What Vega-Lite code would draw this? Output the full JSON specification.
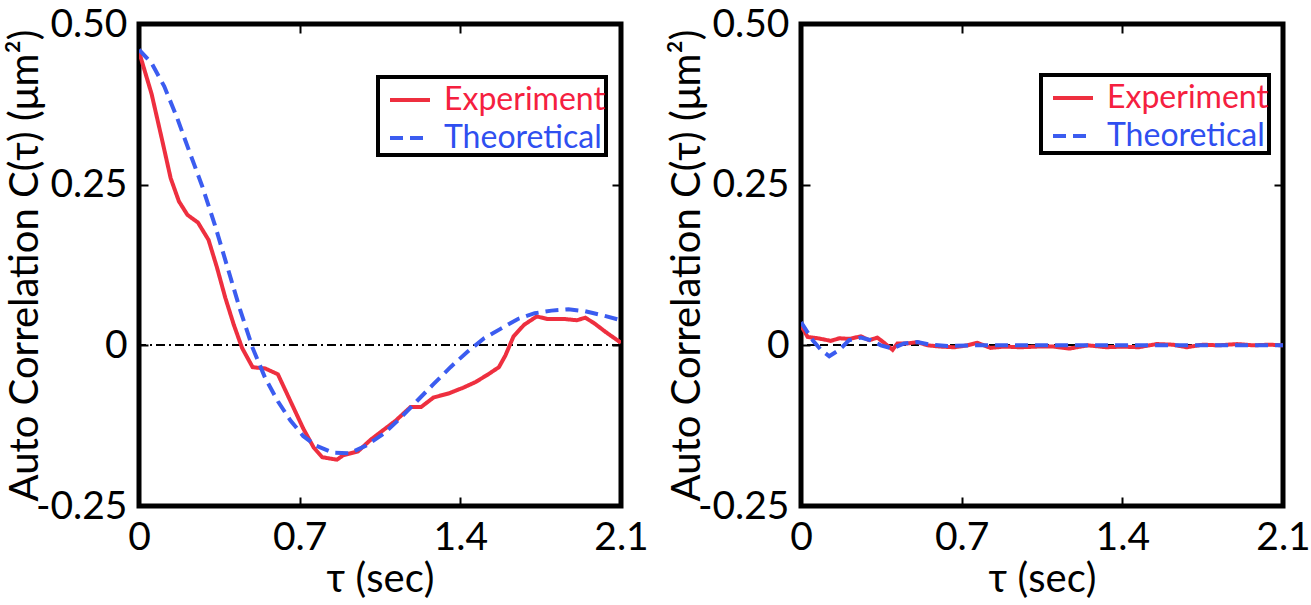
{
  "$schema": "https://vega.github.io/schema/vega-lite/v6.json",
  "background": "white",
  "padding": {"left": 2, "top": 2, "right": 0, "bottom": 0},
  "spacing": 13,
  "config": {
    "font": "Lato",
    "view": {"stroke": "black", "strokeWidth": 5},
    "axis": {
      "labelFont": "Lato",
      "titleFont": "Lato",
      "labelFontSize": 39,
      "titleFontSize": 40,
      "titleFontWeight": "normal",
      "labelColor": "black",
      "titleColor": "black",
      "domain": false,
      "grid": false,
      "tickColor": "black",
      "tickWidth": 2,
      "tickSize": -9,
      "labelPadding": 21,
      "titlePadding": -10
    },
    "legend": {
      "labelFont": "Lato",
      "labelFontSize": 32,
      "labelLimit": 400,
      "symbolType": "stroke",
      "symbolSize": 1600,
      "symbolStrokeWidth": 4,
      "symbolOffset": 9,
      "strokeColor": "black",
      "fillColor": "white",
      "strokeWidth": 4,
      "padding": 1,
      "labelOffset": 12,
      "rowPadding": -5
    }
  },
  "datasets": {
    "left": [
      {"tau": 0, "C": 0.457, "series": "Experiment"},
      {"tau": 0.055, "C": 0.391, "series": "Experiment"},
      {"tau": 0.101, "C": 0.319, "series": "Experiment"},
      {"tau": 0.138, "C": 0.26, "series": "Experiment"},
      {"tau": 0.174, "C": 0.224, "series": "Experiment"},
      {"tau": 0.211, "C": 0.203, "series": "Experiment"},
      {"tau": 0.257, "C": 0.191, "series": "Experiment"},
      {"tau": 0.303, "C": 0.164, "series": "Experiment"},
      {"tau": 0.339, "C": 0.122, "series": "Experiment"},
      {"tau": 0.376, "C": 0.074, "series": "Experiment"},
      {"tau": 0.413, "C": 0.032, "series": "Experiment"},
      {"tau": 0.449, "C": -0.004, "series": "Experiment"},
      {"tau": 0.495, "C": -0.034, "series": "Experiment"},
      {"tau": 0.55, "C": -0.036, "series": "Experiment"},
      {"tau": 0.605, "C": -0.045, "series": "Experiment"},
      {"tau": 0.66, "C": -0.087, "series": "Experiment"},
      {"tau": 0.715, "C": -0.129, "series": "Experiment"},
      {"tau": 0.761, "C": -0.159, "series": "Experiment"},
      {"tau": 0.798, "C": -0.174, "series": "Experiment"},
      {"tau": 0.862, "C": -0.178, "series": "Experiment"},
      {"tau": 0.89, "C": -0.171, "series": "Experiment"},
      {"tau": 0.954, "C": -0.165, "series": "Experiment"},
      {"tau": 1.009, "C": -0.147, "series": "Experiment"},
      {"tau": 1.064, "C": -0.132, "series": "Experiment"},
      {"tau": 1.119, "C": -0.117, "series": "Experiment"},
      {"tau": 1.183, "C": -0.096, "series": "Experiment"},
      {"tau": 1.229, "C": -0.096, "series": "Experiment"},
      {"tau": 1.284, "C": -0.081, "series": "Experiment"},
      {"tau": 1.348, "C": -0.075, "series": "Experiment"},
      {"tau": 1.412, "C": -0.066, "series": "Experiment"},
      {"tau": 1.467, "C": -0.057, "series": "Experiment"},
      {"tau": 1.522, "C": -0.045, "series": "Experiment"},
      {"tau": 1.568, "C": -0.034, "series": "Experiment"},
      {"tau": 1.596, "C": -0.016, "series": "Experiment"},
      {"tau": 1.632, "C": 0.014, "series": "Experiment"},
      {"tau": 1.678, "C": 0.032, "series": "Experiment"},
      {"tau": 1.733, "C": 0.045, "series": "Experiment"},
      {"tau": 1.779, "C": 0.041, "series": "Experiment"},
      {"tau": 1.852, "C": 0.041, "series": "Experiment"},
      {"tau": 1.908, "C": 0.039, "series": "Experiment"},
      {"tau": 1.944, "C": 0.043, "series": "Experiment"},
      {"tau": 1.981, "C": 0.035, "series": "Experiment"},
      {"tau": 2.036, "C": 0.02, "series": "Experiment"},
      {"tau": 2.1, "C": 0.004, "series": "Experiment"},
      {"tau": 0, "C": 0.46, "series": "Theoretical"},
      {"tau": 0.055, "C": 0.439, "series": "Theoretical"},
      {"tau": 0.11, "C": 0.403, "series": "Theoretical"},
      {"tau": 0.165, "C": 0.355, "series": "Theoretical"},
      {"tau": 0.22, "C": 0.301, "series": "Theoretical"},
      {"tau": 0.275, "C": 0.248, "series": "Theoretical"},
      {"tau": 0.33, "C": 0.188, "series": "Theoretical"},
      {"tau": 0.385, "C": 0.122, "series": "Theoretical"},
      {"tau": 0.44, "C": 0.056, "series": "Theoretical"},
      {"tau": 0.495, "C": -0.004, "series": "Theoretical"},
      {"tau": 0.55, "C": -0.051, "series": "Theoretical"},
      {"tau": 0.605, "C": -0.087, "series": "Theoretical"},
      {"tau": 0.66, "C": -0.117, "series": "Theoretical"},
      {"tau": 0.715, "C": -0.141, "series": "Theoretical"},
      {"tau": 0.77, "C": -0.156, "series": "Theoretical"},
      {"tau": 0.844, "C": -0.167, "series": "Theoretical"},
      {"tau": 0.917, "C": -0.168, "series": "Theoretical"},
      {"tau": 0.99, "C": -0.156, "series": "Theoretical"},
      {"tau": 1.064, "C": -0.138, "series": "Theoretical"},
      {"tau": 1.137, "C": -0.114, "series": "Theoretical"},
      {"tau": 1.21, "C": -0.087, "series": "Theoretical"},
      {"tau": 1.284, "C": -0.06, "series": "Theoretical"},
      {"tau": 1.357, "C": -0.034, "series": "Theoretical"},
      {"tau": 1.431, "C": -0.01, "series": "Theoretical"},
      {"tau": 1.504, "C": 0.011, "series": "Theoretical"},
      {"tau": 1.577, "C": 0.026, "series": "Theoretical"},
      {"tau": 1.651, "C": 0.041, "series": "Theoretical"},
      {"tau": 1.724, "C": 0.05, "series": "Theoretical"},
      {"tau": 1.797, "C": 0.054, "series": "Theoretical"},
      {"tau": 1.871, "C": 0.056, "series": "Theoretical"},
      {"tau": 1.944, "C": 0.053, "series": "Theoretical"},
      {"tau": 2.017, "C": 0.047, "series": "Theoretical"},
      {"tau": 2.1, "C": 0.039, "series": "Theoretical"}
    ],
    "right": [
      {"tau": 0, "C": 0.031, "series": "Experiment"},
      {"tau": 0.029, "C": 0.013, "series": "Experiment"},
      {"tau": 0.073, "C": 0.011, "series": "Experiment"},
      {"tau": 0.13, "C": 0.007, "series": "Experiment"},
      {"tau": 0.167, "C": 0.011, "series": "Experiment"},
      {"tau": 0.21, "C": 0.01, "series": "Experiment"},
      {"tau": 0.261, "C": 0.014, "series": "Experiment"},
      {"tau": 0.297, "C": 0.008, "series": "Experiment"},
      {"tau": 0.333, "C": 0.012, "series": "Experiment"},
      {"tau": 0.362, "C": 0.004, "series": "Experiment"},
      {"tau": 0.399, "C": -0.007, "series": "Experiment"},
      {"tau": 0.42, "C": 0.003, "series": "Experiment"},
      {"tau": 0.464, "C": 0.003, "series": "Experiment"},
      {"tau": 0.507, "C": 0.005, "series": "Experiment"},
      {"tau": 0.551, "C": 0.0, "series": "Experiment"},
      {"tau": 0.609, "C": -0.002, "series": "Experiment"},
      {"tau": 0.667, "C": -0.003, "series": "Experiment"},
      {"tau": 0.725, "C": 0.0, "series": "Experiment"},
      {"tau": 0.768, "C": 0.004, "series": "Experiment"},
      {"tau": 0.826, "C": -0.004, "series": "Experiment"},
      {"tau": 0.883, "C": -0.002, "series": "Experiment"},
      {"tau": 0.957, "C": -0.003, "series": "Experiment"},
      {"tau": 1.029, "C": -0.002, "series": "Experiment"},
      {"tau": 1.1, "C": -0.002, "series": "Experiment"},
      {"tau": 1.17, "C": -0.005, "series": "Experiment"},
      {"tau": 1.25, "C": 0.0, "series": "Experiment"},
      {"tau": 1.33, "C": -0.003, "series": "Experiment"},
      {"tau": 1.4, "C": -0.002, "series": "Experiment"},
      {"tau": 1.47, "C": -0.003, "series": "Experiment"},
      {"tau": 1.55, "C": 0.002, "series": "Experiment"},
      {"tau": 1.62, "C": 0.001, "series": "Experiment"},
      {"tau": 1.68, "C": -0.003, "series": "Experiment"},
      {"tau": 1.75, "C": 0.001, "series": "Experiment"},
      {"tau": 1.82, "C": 0.0, "series": "Experiment"},
      {"tau": 1.9, "C": 0.002, "series": "Experiment"},
      {"tau": 1.97, "C": 0.0, "series": "Experiment"},
      {"tau": 2.04, "C": 0.001, "series": "Experiment"},
      {"tau": 2.1, "C": 0.0, "series": "Experiment"},
      {"tau": 0, "C": 0.036, "series": "Theoretical"},
      {"tau": 0.051, "C": 0.008, "series": "Theoretical"},
      {"tau": 0.087, "C": -0.007, "series": "Theoretical"},
      {"tau": 0.123, "C": -0.017, "series": "Theoretical"},
      {"tau": 0.167, "C": -0.007, "series": "Theoretical"},
      {"tau": 0.21, "C": 0.008, "series": "Theoretical"},
      {"tau": 0.261, "C": 0.012, "series": "Theoretical"},
      {"tau": 0.304, "C": 0.008, "series": "Theoretical"},
      {"tau": 0.348, "C": 0.0, "series": "Theoretical"},
      {"tau": 0.399, "C": -0.005, "series": "Theoretical"},
      {"tau": 0.449, "C": 0.003, "series": "Theoretical"},
      {"tau": 0.507, "C": 0.005, "series": "Theoretical"},
      {"tau": 0.565, "C": 0.001, "series": "Theoretical"},
      {"tau": 0.638, "C": -0.001, "series": "Theoretical"},
      {"tau": 0.75, "C": 0.0, "series": "Theoretical"},
      {"tau": 0.9, "C": 0.0, "series": "Theoretical"},
      {"tau": 1.1, "C": 0.0, "series": "Theoretical"},
      {"tau": 1.3, "C": 0.0, "series": "Theoretical"},
      {"tau": 1.5, "C": 0.0, "series": "Theoretical"},
      {"tau": 1.7, "C": 0.0, "series": "Theoretical"},
      {"tau": 1.9, "C": 0.0, "series": "Theoretical"},
      {"tau": 2.1, "C": 0.0, "series": "Theoretical"}
    ]
  },
  "resolve": {"scale": {"color": "independent", "strokeDash": "independent"}, "legend": {"color": "independent", "strokeDash": "independent"}},
  "hconcat": [
    {
      "width": 482,
      "height": 482,
      "data": {"name": "left"},
      "resolve": {"axis": {"x": "independent", "y": "independent"}},
      "layer": [
        {
          "mark": {"type": "rule", "color": "black", "strokeWidth": 1.5, "strokeDash": [9, 4, 2, 4]},
          "encoding": {
            "y": {"datum": 0, "type": "quantitative", "scale": {"domain": [-0.25, 0.5], "nice": false, "zero": false}, "axis": null}
          }
        },
        {
          "mark": {"type": "line", "strokeWidth": 4, "clip": true},
          "encoding": {
            "x": {"field": "tau", "type": "quantitative", "scale": {"domain": [0, 2.1], "nice": false, "zero": false},
              "axis": {"values": [0, 0.7, 1.4, 2.1], "title": "τ (sec)", "titlePadding": 2, "labelExpr": "datum.value == 0 ? '0' : format(datum.value, '.1f')", "labelFlush": false}},
            "y": {"field": "C", "type": "quantitative", "scale": {"domain": [-0.25, 0.5], "nice": false, "zero": false},
              "axis": {"values": [-0.25, 0, 0.25, 0.5], "title": "Auto Correlation C(τ) (μm²)", "labelExpr": "datum.value == 0 ? '0' : (datum.value < 0 ? '-' + format(-datum.value, '.2f') : format(datum.value, '.2f'))", "labelFlush": false}},
            "color": {"field": "series", "type": "nominal",
              "scale": {"domain": ["Experiment", "Theoretical"], "range": ["#ee2f3f", "#3b5cf0"]},
              "legend": {"title": null, "orient": "none", "legendX": 239, "legendY": 53,
                "labelExpr": "datum.label + '\u00a0\u00a0'",
                "encode": {"labels": {"update": {"fill": {"signal": "datum.value === 'Experiment' ? '#f5203f' : '#2f4ff0'"}}}}}},
            "strokeDash": {"field": "series", "type": "nominal",
              "scale": {"domain": ["Experiment", "Theoretical"], "range": [[1, 0], [13, 7]]},
              "legend": {"title": null, "orient": "none", "legendX": 239, "legendY": 53,
                "labelExpr": "datum.label + '\u00a0\u00a0'",
                "encode": {"labels": {"update": {"fill": {"signal": "datum.value === 'Experiment' ? '#f5203f' : '#2f4ff0'"}}}}}}
          }
        },
        {
          "mark": {"type": "line", "opacity": 0},
          "encoding": {
            "x": {"field": "tau", "type": "quantitative", "axis": {"orient": "top", "values": [0, 0.7, 1.4, 2.1], "labels": false, "title": null}},
            "y": {"field": "C", "type": "quantitative", "axis": {"orient": "right", "values": [-0.25, 0, 0.25, 0.5], "labels": false, "title": null}}
          }
        }
      ]
    },
    {
      "width": 482,
      "height": 482,
      "data": {"name": "right"},
      "resolve": {"axis": {"x": "independent", "y": "independent"}},
      "layer": [
        {
          "mark": {"type": "rule", "color": "black", "strokeWidth": 1.5, "strokeDash": [8, 5]},
          "encoding": {
            "y": {"datum": 0, "type": "quantitative", "scale": {"domain": [-0.25, 0.5], "nice": false, "zero": false}, "axis": null}
          }
        },
        {
          "mark": {"type": "line", "strokeWidth": 4, "clip": true},
          "encoding": {
            "x": {"field": "tau", "type": "quantitative", "scale": {"domain": [0, 2.1], "nice": false, "zero": false},
              "axis": {"values": [0, 0.7, 1.4, 2.1], "title": "τ (sec)", "titlePadding": 2, "labelExpr": "datum.value == 0 ? '0' : format(datum.value, '.1f')", "labelFlush": false}},
            "y": {"field": "C", "type": "quantitative", "scale": {"domain": [-0.25, 0.5], "nice": false, "zero": false},
              "axis": {"values": [-0.25, 0, 0.25, 0.5], "title": "Auto Correlation C(τ) (μm²)", "labelExpr": "datum.value == 0 ? '0' : (datum.value < 0 ? '-' + format(-datum.value, '.2f') : format(datum.value, '.2f'))", "labelFlush": false}},
            "color": {"field": "series", "type": "nominal",
              "scale": {"domain": ["Experiment", "Theoretical"], "range": ["#ee2f3f", "#3b5cf0"]},
              "legend": {"title": null, "orient": "none", "legendX": 240, "legendY": 51,
                "labelExpr": "datum.label + '\u00a0\u00a0'",
                "encode": {"labels": {"update": {"fill": {"signal": "datum.value === 'Experiment' ? '#f5203f' : '#2f4ff0'"}}}}}},
            "strokeDash": {"field": "series", "type": "nominal",
              "scale": {"domain": ["Experiment", "Theoretical"], "range": [[1, 0], [13, 7]]},
              "legend": {"title": null, "orient": "none", "legendX": 240, "legendY": 51,
                "labelExpr": "datum.label + '\u00a0\u00a0'",
                "encode": {"labels": {"update": {"fill": {"signal": "datum.value === 'Experiment' ? '#f5203f' : '#2f4ff0'"}}}}}}
          }
        },
        {
          "mark": {"type": "line", "opacity": 0},
          "encoding": {
            "x": {"field": "tau", "type": "quantitative", "axis": {"orient": "top", "values": [0, 0.7, 1.4, 2.1], "labels": false, "title": null}},
            "y": {"field": "C", "type": "quantitative", "axis": {"orient": "right", "values": [-0.25, 0, 0.25, 0.5], "labels": false, "title": null}}
          }
        }
      ]
    }
  ]
}
